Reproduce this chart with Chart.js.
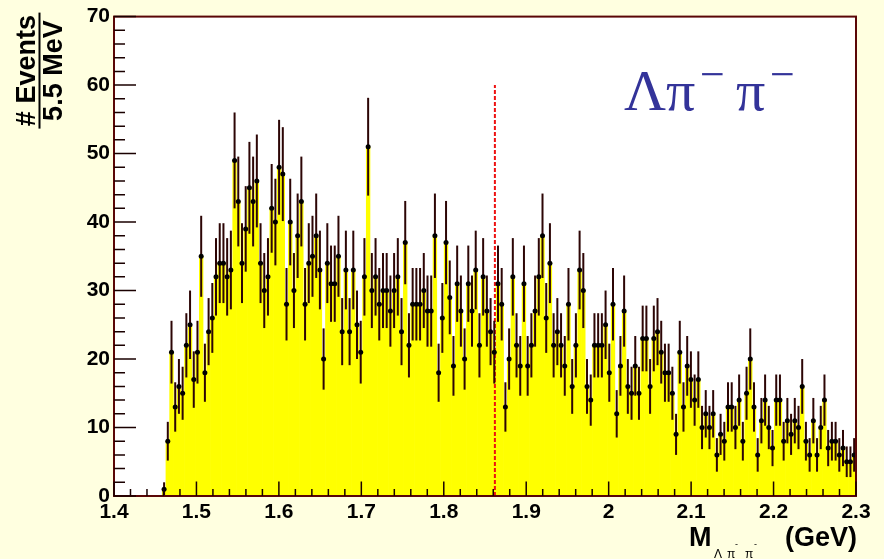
<!DOCTYPE html>
<html>
<head>
<meta charset="utf-8">
<script src="https://cdn.jsdelivr.net/npm/chart.js@4.4.1/dist/chart.umd.min.js"></script>
<style>
  html, body { margin: 0; padding: 0; background: #ffffe0; }
  canvas { display: block; }
</style>
</head>
<body>
<canvas id="massPlot" width="884" height="559"></canvas>
<script>
// Invariant mass of Lambda pi- pi- candidates, 4.5 MeV bins between 1.4 and 2.3 GeV
const massMin = 1.4;
const massMax = 2.3;
const binWidth = 0.0045;   // GeV
const firstBin = 13;       // bins below this one are empty

// entries per bin, starting at bin `firstBin`
const binCounts = [
  1, 8, 21, 13, 16, 15, 22, 25, 17, 21,
  35, 18, 24, 26, 32, 34, 34, 32, 33, 49,
  43, 34, 39, 45, 43, 46, 34, 30, 32, 42,
  40, 48, 47, 28, 40, 30, 38, 43, 28, 34,
  35, 38, 33, 20, 34, 31, 31, 35, 24, 33,
  24, 33, 25, 21, 32, 51, 30, 32, 28, 30,
  30, 27, 30, 32, 24, 37, 22, 28, 28, 28,
  30, 27, 27, 38, 18, 26, 37, 29, 19, 31,
  27, 20, 31, 27, 33, 22, 32, 27, 24, 21,
  31, 28, 13, 20, 32, 22, 19, 31, 19, 22,
  27, 32, 38, 26, 34, 22, 24, 22, 19, 28,
  16, 22, 33, 30, 16, 14, 22, 22, 22, 25,
  18, 28, 12, 19, 27, 16, 15, 19, 15, 23,
  23, 16, 23, 24, 21, 18, 18, 15, 9, 21,
  13, 19, 17, 14, 17, 10, 12, 10, 12, 6,
  9, 8, 13, 13, 10, 14, 8, 15, 20, 13,
  6, 11, 14, 10, 7, 14, 14, 8, 11, 9,
  11, 10, 16, 8, 6, 11, 6, 10, 14, 7,
  8, 8, 6, 7, 5, 5, 6
];

const xTickLabels = ['1.4', '1.5', '1.6', '1.7', '1.8', '1.9', '2', '2.1', '2.2', '2.3'];
const yTickLabels = ['0', '10', '20', '30', '40', '50', '60', '70'];

// vertical reference line
const markerMass = 1.862;
const markerTop = 60;

const binCenters = binCounts.map((_, i) => massMin + (firstBin + i + 0.5) * binWidth);
const histPoints = binCounts.map((n, i) => ({ x: binCenters[i], y: n }));

const boldSans = '"Liberation Sans", Arial, Helvetica, sans-serif';
const serif = '"Liberation Serif", "Times New Roman", serif';

const rootFrame = {
  id: 'rootFrame',
  beforeDraw(chart) {
    const { ctx, chartArea: a } = chart;
    ctx.save();
    ctx.fillStyle = '#ffffe0';
    ctx.fillRect(0, 0, chart.width, chart.height);
    ctx.fillStyle = '#ffffff';
    ctx.fillRect(a.left, a.top, a.right - a.left, a.bottom - a.top);
    ctx.restore();
  },
  afterDatasetDraw(chart, args) {
    if (args.index !== 0) return;
    const { ctx, scales: { x, y } } = chart;
    ctx.save();
    // dashed reference line
    const mx = x.getPixelForValue(markerMass);
    ctx.strokeStyle = '#ee1111';
    ctx.lineWidth = 2;
    ctx.setLineDash([4, 2]);
    ctx.beginPath();
    ctx.moveTo(mx, y.getPixelForValue(0));
    ctx.lineTo(mx, y.getPixelForValue(markerTop));
    ctx.stroke();
    ctx.setLineDash([]);
    // Poisson error bars
    const half = (x.getPixelForValue(binWidth) - x.getPixelForValue(0)) / 2;
    ctx.strokeStyle = '#2c0505';
    histPoints.forEach(p => {
      const px = x.getPixelForValue(p.x);
      const err = Math.sqrt(p.y);
      const yc = y.getPixelForValue(p.y);
      ctx.lineWidth = 2;
      ctx.beginPath();
      ctx.moveTo(px, y.getPixelForValue(p.y + err));
      ctx.lineTo(px, y.getPixelForValue(Math.max(p.y - err, 0)));
      ctx.stroke();
      ctx.lineWidth = 1.5;
      ctx.beginPath();
      ctx.moveTo(px - half, yc);
      ctx.lineTo(px + half, yc);
      ctx.stroke();
    });
    ctx.restore();
  },
  afterDraw(chart) {
    const { ctx, chartArea: a, scales: { x, y } } = chart;
    ctx.save();
    // frame
    ctx.strokeStyle = '#5a0606';
    ctx.lineWidth = 2;
    ctx.strokeRect(a.left, a.top, a.right - a.left, a.bottom - a.top);
    // inward tick marks
    ctx.strokeStyle = '#1a0000';
    ctx.lineWidth = 1.5;
    const xt = x.ticks.map(t => t.value);
    ctx.beginPath();
    for (let i = 0; i < xt.length; i++) {
      const p = x.getPixelForValue(xt[i]);
      ctx.moveTo(p, a.bottom); ctx.lineTo(p, a.bottom - 14.5);
      if (i < xt.length - 1) {
        for (let j = 1; j < 5; j++) {
          const q = x.getPixelForValue(xt[i] + (xt[i + 1] - xt[i]) * j / 5);
          ctx.moveTo(q, a.bottom); ctx.lineTo(q, a.bottom - 7);
        }
      }
    }
    const yt = y.ticks.map(t => t.value);
    for (let i = 0; i < yt.length; i++) {
      const p = y.getPixelForValue(yt[i]);
      ctx.moveTo(a.left, p); ctx.lineTo(a.left + 22, p);
      if (i < yt.length - 1) {
        for (let j = 1; j < 5; j++) {
          const q = y.getPixelForValue(yt[i] + (yt[i + 1] - yt[i]) * j / 5);
          ctx.moveTo(a.left, q); ctx.lineTo(a.left + 11, q);
        }
      }
    }
    ctx.stroke();

    // y title: "# Events" over "5.5 MeV"
    ctx.save();
    ctx.translate(39.5, a.top + 54);
    ctx.rotate(-Math.PI / 2);
    ctx.fillStyle = '#000';
    ctx.font = 'bold 27px ' + boldSans;
    ctx.textAlign = 'center';
    ctx.textBaseline = 'alphabetic';
    ctx.fillText('# Events', 0, -4.5);
    ctx.textBaseline = 'top';
    ctx.fillText('5.5 MeV', 0, 1.5);
    ctx.fillRect(-58, -1, 116, 2);
    ctx.restore();

    // x title: M_{Λπ⁻π⁻} (GeV)
    ctx.fillStyle = '#000';
    ctx.textBaseline = 'alphabetic';
    ctx.textAlign = 'right';
    ctx.font = 'bold 27px ' + boldSans;
    ctx.fillText('(GeV)', a.right + 1, 546);
    ctx.textAlign = 'left';
    ctx.fillText('M', 689, 546);
    ctx.font = '12px ' + boldSans;
    ctx.fillText('Λ', 714, 558);
    ctx.fillText('π', 727, 558);
    ctx.fillText('π', 745, 558);
    ctx.font = '9px ' + boldSans;
    ctx.fillText('-', 735, 547);
    ctx.fillText('-', 754, 547);

    // channel label
    ctx.fillStyle = '#333399';
    ctx.font = '58px ' + serif;
    ctx.fillText('Λπ', 624, 110);
    ctx.fillText('π', 736, 110);
    ctx.font = '44px ' + serif;
    ctx.fillText('\u2212', 700, 89);
    ctx.fillText('\u2212', 770, 89);
    ctx.restore();
  }
};

new Chart(document.getElementById('massPlot'), {
  type: 'bar',
  data: {
    datasets: [
      {
        type: 'bar',
        data: histPoints,
        backgroundColor: '#ffff00',
        borderWidth: 0,
        barPercentage: 1.0,
        categoryPercentage: 1.0,
        order: 2
      },
      {
        type: 'scatter',
        data: histPoints,
        pointRadius: 2.5,
        pointBackgroundColor: '#000',
        pointBorderWidth: 0,
        showLine: false,
        order: 1
      }
    ]
  },
  options: {
    responsive: false,
    animation: false,
    devicePixelRatio: 1,
    layout: { padding: { left: 0, right: 28, top: 13, bottom: 0 } },
    plugins: { legend: { display: false }, tooltip: { enabled: false } },
    scales: {
      x: {
        type: 'linear',
        min: massMin,
        max: massMax,
        offset: false,
        grid: { display: false, drawTicks: false },
        border: { display: false },
        ticks: {
          stepSize: 0.1,
          autoSkip: false,
          maxRotation: 0,
          padding: 4,
          color: '#000',
          font: { family: boldSans, weight: 'bold', size: 21 },
          callback: (v, i) => xTickLabels[i]
        },
        afterFit(s) { s.height = 63; }
      },
      y: {
        min: 0,
        max: 70,
        grid: { display: false, drawTicks: false },
        border: { display: false },
        ticks: {
          stepSize: 10,
          padding: 4,
          color: '#000',
          font: { family: boldSans, weight: 'bold', size: 21 },
          callback: (v, i) => yTickLabels[i]
        },
        afterFit(s) { s.width = 114; }
      }
    }
  },
  plugins: [rootFrame]
});
</script>
</body>
</html>
